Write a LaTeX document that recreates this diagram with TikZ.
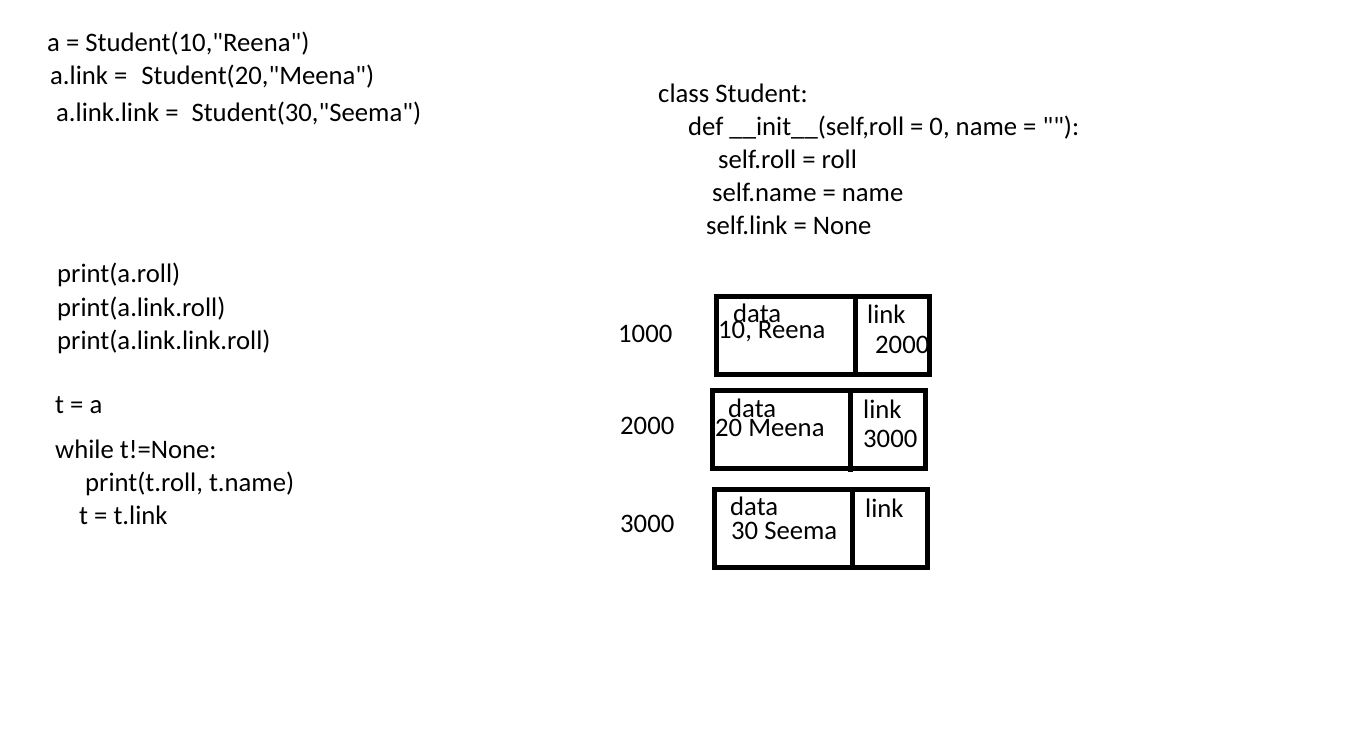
\documentclass[tikz,border=0pt]{standalone}
\usepackage{fontspec}
\setmainfont{Carlito}
\usetikzlibrary{positioning}
\newcommand{\qq}{\textquotedbl}
\begin{document}
\begin{tikzpicture}[x=1pt, y=-1pt,
    code/.style = {anchor=base west, inner sep=0pt, font=\fontsize{26.7}{32}\selectfont},
    cell/.style = {draw, line width=5pt, inner sep=0pt, outer sep=0pt, minimum height=78pt}]
    \useasboundingbox (0,0) rectangle (1347,747);
    % object creation
    \node[code] (new1) at (47,51) {a = Student(10,\qq Reena\qq)};
    \node[code] (new2) at (50,84) {a.link =\hspace{14pt}Student(20,\qq Meena\qq)};
    \node[code] (new3) at (56,121) {a.link.link =\hspace{13pt}Student(30,\qq Seema\qq)};
    % class
    \node[code] (cls) at (658,102) {class Student:};
    \node[code] (init) at (688,135) {def \_\_init\_\_(self,roll = 0, name = \qq\qq):};
    \node[code] (roll) at (718,168) {self.roll = roll};
    \node[code] (name) at (712,201) {self.name = name};
    \node[code] (link) at (706,234) {self.link = None};
    % printing
    \node[code] (p1) at (57,282) {print(a.roll)};
    \node[code] (p2) at (57,316) {print(a.link.roll)};
    \node[code] (p3) at (57,349) {print(a.link.link.roll)};
    \node[code] (t) at (55,413) {t = a};
    \node[code] (loop) at (55,458) {while t!=None:};
    \node[code] (body) at (85,491) {print(t.roll, t.name)};
    \node[code] (next) at (79,524) {t = t.link};
    % addresses
    \node[code] (a1) at (618,342) {1000};
    \node[code] (a2) at (620,434) {2000};
    \node[code] (a3) at (620,532) {3000};
    % contents of the list nodes
    \node[code] (h1) at (733,322) {data};
    \node[code] (v1) at (718,338) {10, Reena};
    \node[code] (k1) at (867,323) {link};
    \node[code] (n1) at (875,353) {2000};
    \node[code] (h2) at (728,417) {data};
    \node[code] (v2) at (715,436) {20 Meena};
    \node[code] (k2) at (863,418) {link};
    \node[code] (n2) at (863,447) {3000};
    \node[code] (h3) at (730,515) {data};
    \node[code] (v3) at (731,539) {30 Seema};
    \node[code] (k3) at (865,517) {link};
    % nodes of the list
    \node[cell, minimum width=139pt, anchor=north west] (d1) at (716,296) {};
    \node[cell, minimum width=74pt, right=0pt of d1] (l1) {};
    \node[cell, minimum width=138pt, anchor=north west] (d2) at (712,390) {};
    \node[cell, minimum width=75pt, right=0pt of d2] (l2) {};
    \node[cell, minimum width=138pt, anchor=north west] (d3) at (714,489) {};
    \node[cell, minimum width=75pt, right=0pt of d3] (l3) {};
    \draw[line width=5pt] (d1.north east) -- ([yshift=-3pt]d1.south east);
    \draw[line width=5pt] (d2.north east) -- ([yshift=-4pt]d2.south east);
    \draw[line width=5pt] (d3.north east) -- ([yshift=-3pt]d3.south east);
\end{tikzpicture}
\end{document}
